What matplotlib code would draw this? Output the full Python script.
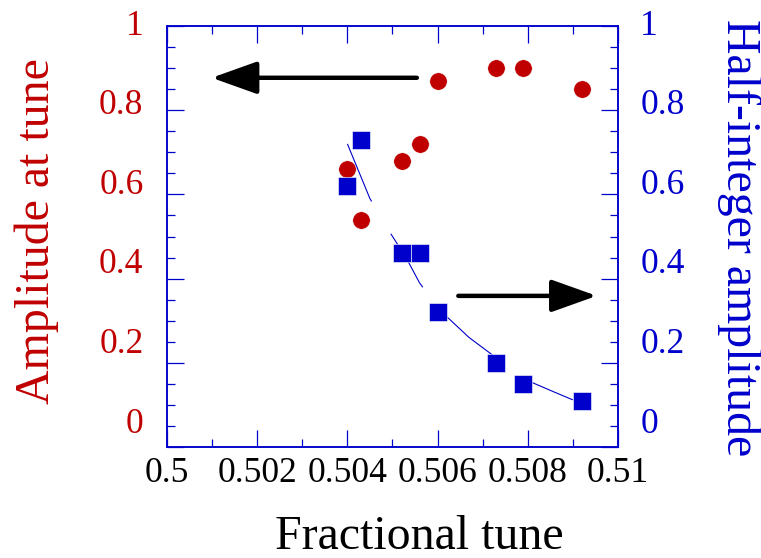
import numpy as np
import matplotlib
matplotlib.use("Agg")
import matplotlib.pyplot as plt
from matplotlib.ticker import MultipleLocator
from matplotlib.transforms import ScaledTranslation

plt.rcParams['font.family'] = ['Liberation Serif', 'DejaVu Serif']
plt.rcParams['lines.scale_dashes'] = False

# data
tune = [0.5040, 0.5043, 0.5052, 0.5056, 0.5060, 0.5073, 0.5079, 0.5092]
amp_at_tune = [0.66, 0.54, 0.68, 0.72, 0.87, 0.90, 0.90, 0.85]
half_int_amp = [0.62, 0.73, 0.46, 0.46, 0.32, 0.20, 0.15, 0.11]

# fit curve (right axis)
fit_x = [0.5040, 0.5045, 0.5049, 0.5053, 0.5056, 0.5060, 0.5062, 0.5067,
         0.5072, 0.5076, 0.5081, 0.5086, 0.5090]
fit_y = [0.72, 0.59, 0.517, 0.45, 0.39, 0.33, 0.31, 0.26,
         0.22, 0.19, 0.153, 0.13, 0.112]

red = '#c00000'
blue = '#0000cc'

fig = plt.figure(figsize=(7.61, 5.58), dpi=100)
ax = fig.add_subplot(111)
fig.subplots_adjust(left=0.2195, right=0.812, top=0.9534, bottom=0.1989)
ax2 = ax.twinx()

ax.plot(tune, amp_at_tune, 'o', color=red, markersize=12.5, markeredgecolor='white',
        markeredgewidth=0.3, zorder=3)
ax2.plot(fit_x, fit_y, '-', color=blue, lw=0.8, dashes=(45, 27), zorder=2)
ax2.plot(tune, half_int_amp, 's', color=blue, markersize=13, markeredgecolor='white',
         markeredgewidth=0.4, zorder=3)

# arrows
ax.annotate('', xy=(0.50099, 0.877), xytext=(0.50554, 0.877),
            arrowprops=dict(arrowstyle='-|>,head_length=1.4,head_width=0.5', lw=3.2,
                            color='black', mutation_scale=20, shrinkA=0, shrinkB=0,
                            capstyle='round'))
ax2.annotate('', xy=(0.50953, 0.359), xytext=(0.50646, 0.359),
             arrowprops=dict(arrowstyle='-|>,head_length=1.4,head_width=0.5', lw=3.2,
                             color='black', mutation_scale=20, shrinkA=0, shrinkB=0,
                             capstyle='round'))

ax.set_xlim(0.5, 0.51)
ax.set_ylim(0, 1)
ax2.set_ylim(0, 1)

ax.set_xticks(np.arange(0.5, 0.5101, 0.002))
ax.set_xticklabels(['0.5', '0.502', '0.504', '0.506', '0.508', '0.51'])
ax.xaxis.set_minor_locator(MultipleLocator(0.001))
yt = [0, 0.2, 0.4, 0.6, 0.8, 1.0]
ylabels = ['0', '0.2', '0.4', '0.6', '0.8', '1']
ax.set_yticks(yt)
ax.set_yticklabels(ylabels)
ax2.set_yticks(yt)
ax2.set_yticklabels(ylabels)
ax.yaxis.set_minor_locator(MultipleLocator(0.05))
ax2.yaxis.set_minor_locator(MultipleLocator(0.05))

ax.tick_params(axis='x', which='both', direction='in', top=True, colors=blue,
               labelcolor='black', labelsize=25.5, pad=7)
ax.tick_params(axis='y', which='both', direction='in', right=False, colors=blue,
               labelcolor=red, labelsize=25.5, pad=17)
ax2.tick_params(axis='y', which='both', direction='in', colors=blue,
                labelcolor=blue, labelsize=25.5, pad=16)
for a in (ax, ax2):
    a.tick_params(which='major', length=12, width=0.9)
    a.tick_params(which='minor', length=6, width=0.9)
    for s in a.spines.values():
        s.set_color(blue)
        s.set_linewidth(1.1)

# y tick labels sit a bit above their ticks in the original
for a in (ax, ax2):
    for tick in a.yaxis.get_major_ticks():
        v = tick.get_loc()
        off = ScaledTranslation(0, (27 - 23 * v) / 100, fig.dpi_scale_trans)
        tick.label1.set_transform(tick.label1.get_transform() + off)
        tick.label2.set_transform(tick.label2.get_transform() + off)

ax.set_xlabel('Fractional tune', fontsize=34.5)
ax.xaxis.set_label_coords(0.56, -0.214)
ax.xaxis.label.set_va('center')
ax.set_ylabel('Amplitude at tune', fontsize=34.5, color=red)
ax.yaxis.set_label_coords(-0.29, 0.513)
ax.yaxis.label.set_va('center')
ax2.set_ylabel('Half-integer amplitude', fontsize=34.5, color=blue, rotation=-90)
ax2.yaxis.set_label_coords(1.27, 0.497)
ax2.yaxis.label.set_va('center')

plt.savefig('out.png', dpi=100)
